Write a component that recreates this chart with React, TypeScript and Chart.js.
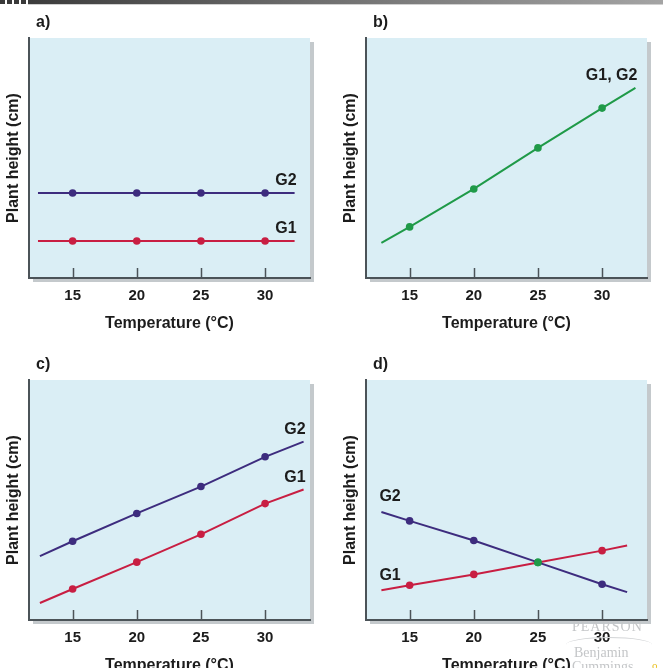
import React, { useEffect, useRef } from "react";
import { Chart, registerables } from "chart.js";

Chart.register(...registerables);

const FONT = "'Liberation Sans', Arial, Helvetica, sans-serif";

// Shared temperature axis
const tempTicks = [15, 20, 25, 30];
const tempMin = 11.6;
const tempMax = 33.5;
const heightMin = 0;
const heightMax = 100;

// a) neither genotype responds to temperature
const tempsA = [12.3, 15, 20, 25, 30, 32.3];
const g1A = [15.4, 15.4, 15.4, 15.4, 15.4, 15.4];
const g2A = [35.4, 35.4, 35.4, 35.4, 35.4, 35.4];

// b) both genotypes share one response line
const tempsB = [12.8, 15, 20, 25, 30, 32.6];
const g1g2B = [14.6, 21.3, 37.1, 54.2, 70.8, 79.2];

// c) parallel responses
const tempsC = [12.45, 15, 20, 25, 30, 33.0];
const g1C = [7.1, 12.9, 24.1, 35.7, 48.5, 54.4];
const g2C = [26.6, 32.8, 44.4, 55.6, 68.0, 74.3];

// d) crossing responses
const tempsD = [12.8, 15, 20, 25, 30, 31.95];
const g1D = [12.4, 14.5, 19.0, 24.0, 28.9, 31.0];
const g2D = [45.0, 41.3, 33.1, 24.0, 14.9, 11.6];
const crossingTempD = 25;

const PURPLE = "#3d2c7e";
const RED = "#c81e42";
const GREEN = "#1f9a48";
const AXIS = "#4b5358";
const TEXT = "#1c1c1c";

type Series = {
  label: string;
  temps: number[];
  values: number[];
  color: string;
  markerColor?: (t: number) => string;
};

type PanelProps = {
  letter: string;
  series: Series[];
  labelAt: "start" | "end";
  left: number;
  top: number;
};

const panelDecor = {
  id: "panelDecor",
  beforeDraw(chart: any) {
    const { ctx, chartArea: a } = chart;
    ctx.save();
    ctx.fillStyle = "#c4c9cc";
    ctx.fillRect(a.left + 4, a.top + 4, a.right - a.left, a.bottom - a.top);
    ctx.fillStyle = "#daeef5";
    ctx.fillRect(a.left, a.top, a.right - a.left, a.bottom - a.top);
    ctx.restore();
  },
  beforeDatasetsDraw(chart: any) {
    const { ctx, chartArea: a } = chart;
    const xs = chart.scales.x;
    ctx.save();
    ctx.strokeStyle = AXIS;
    ctx.lineWidth = 1.5;
    for (const t of tempTicks) {
      const px = Math.round(xs.getPixelForValue(t)) + 0.5;
      ctx.beginPath();
      ctx.moveTo(px, a.bottom);
      ctx.lineTo(px, a.bottom - 10);
      ctx.stroke();
    }
    ctx.restore();
  },
  afterDraw(chart: any, _args: any, opts: any) {
    const { ctx, chartArea: a } = chart;
    ctx.save();
    ctx.fillStyle = TEXT;
    ctx.font = `bold 16px ${FONT}`;
    ctx.textBaseline = "middle";
    ctx.textAlign = "left";
    ctx.fillText(opts.letter, a.left + 7, a.top - 15);
    chart.data.datasets.forEach((ds: any, i: number) => {
      const pts = chart.getDatasetMeta(i).data;
      if (opts.labelAt === "end") {
        const p = pts[pts.length - 1];
        ctx.textAlign = "right";
        ctx.fillText(ds.label, p.x + 2, p.y - 12);
      } else {
        const p = pts[0];
        ctx.textAlign = "left";
        ctx.fillText(ds.label, p.x - 2, p.y - 15);
      }
    });
    ctx.restore();
  },
};

function Panel({ letter, series, labelAt, left, top }: PanelProps) {
  const ref = useRef<HTMLCanvasElement | null>(null);

  useEffect(() => {
    if (!ref.current) return;
    const chart = new Chart(ref.current, {
      type: "line",
      data: {
        datasets: series.map((s) => ({
          label: s.label,
          data: s.temps.map((t, i) => ({ x: t, y: s.values[i] })),
          borderColor: s.color,
          borderWidth: 2,
          pointRadius: s.temps.map((t) => (tempTicks.includes(t) ? 3.8 : 0)),
          pointBackgroundColor: s.temps.map((t) =>
            s.markerColor ? s.markerColor(t) : s.color
          ),
          pointBorderWidth: 0,
          tension: 0,
          fill: false,
        })),
      },
      options: {
        responsive: false,
        animation: false,
        events: [],
        layout: { padding: { top: 38, right: 21, bottom: 0, left: 0 } },
        plugins: {
          legend: { display: false },
          tooltip: { enabled: false },
          panelDecor: { letter, labelAt },
        } as any,
        scales: {
          x: {
            type: "linear",
            min: tempMin,
            max: tempMax,
            afterBuildTicks: (scale: any) => {
              scale.ticks = tempTicks.map((v) => ({ value: v }));
            },
            afterFit: (scale: any) => {
              scale.height = 62;
            },
            grid: { display: false, drawTicks: false },
            border: { display: true, color: AXIS, width: 2 },
            ticks: {
              padding: 9,
              color: TEXT,
              font: { family: FONT, size: 15, weight: "bold" },
              maxRotation: 0,
            },
            title: {
              display: true,
              text: "Temperature (°C)",
              color: TEXT,
              font: { family: FONT, size: 16, weight: "bold" },
              padding: { top: 0, bottom: 7 },
            },
          },
          y: {
            type: "linear",
            min: heightMin,
            max: heightMax,
            afterFit: (scale: any) => {
              scale.width = 29;
            },
            grid: { display: false, drawTicks: false },
            border: { display: true, color: AXIS, width: 2 },
            ticks: { display: false },
            title: {
              display: true,
              text: "Plant height (cm)",
              color: TEXT,
              font: { family: FONT, size: 16, weight: "bold" },
              padding: { top: 4, bottom: 0 },
            },
          },
        },
      },
      plugins: [panelDecor],
    });
    return () => chart.destroy();
  }, []);

  return (
    <canvas
      ref={ref}
      width={331}
      height={340}
      style={{ position: "absolute", left, top }}
    />
  );
}

const panelA: Series[] = [
  { label: "G2", temps: tempsA, values: g2A, color: PURPLE },
  { label: "G1", temps: tempsA, values: g1A, color: RED },
];
const panelB: Series[] = [
  { label: "G1, G2", temps: tempsB, values: g1g2B, color: GREEN },
];
const panelC: Series[] = [
  { label: "G2", temps: tempsC, values: g2C, color: PURPLE },
  { label: "G1", temps: tempsC, values: g1C, color: RED },
];
const panelD: Series[] = [
  {
    label: "G2",
    temps: tempsD,
    values: g2D,
    color: PURPLE,
    markerColor: (t) => (t === crossingTempD ? GREEN : PURPLE),
  },
  {
    label: "G1",
    temps: tempsD,
    values: g1D,
    color: RED,
    markerColor: (t) => (t === crossingTempD ? GREEN : RED),
  },
];

function HeaderBar() {
  const blocks = [0, 7, 14, 21];
  return (
    <>
      {blocks.map((x) => (
        <div
          key={x}
          style={{
            position: "absolute",
            left: x,
            top: 0,
            width: 5,
            height: 4,
            background: "#3a3a3a",
          }}
        />
      ))}
      <div
        style={{
          position: "absolute",
          left: 28,
          top: 0,
          width: 635,
          height: 4,
          background: "linear-gradient(to right, #3c3c3c, #6e6e6e 45%, #a4a4a4)",
          borderBottom: "1px solid #d0d0d0",
        }}
      />
    </>
  );
}

function Imprint() {
  const base: React.CSSProperties = {
    position: "absolute",
    fontFamily: "'Liberation Serif', 'DejaVu Serif', serif",
    color: "#c4c6c8",
    whiteSpace: "nowrap",
    lineHeight: 1,
  };
  return (
    <>
      <div style={{ ...base, left: 572, top: 620, fontSize: 14, letterSpacing: 1 }}>
        PEARSON
      </div>
      <div
        style={{
          position: "absolute",
          left: 566,
          top: 637,
          width: 86,
          height: 14,
          borderTop: "1px solid #d2d4d6",
          borderRadius: "50% 50% 0 0",
        }}
      />
      <div style={{ ...base, left: 574, top: 646, fontSize: 14 }}>Benjamin</div>
      <div style={{ ...base, left: 572, top: 660, fontSize: 14 }}>Cummings</div>
      <div style={{ ...base, left: 652, top: 660, fontSize: 11, color: "#e8c020" }}>
        o
      </div>
    </>
  );
}

export default function App() {
  useEffect(() => {
    document.body.style.margin = "0";
  }, []);
  return (
    <div
      style={{
        position: "absolute",
        left: 0,
        top: 0,
        width: 663,
        height: 668,
        overflow: "hidden",
        background: "#ffffff",
      }}
    >
      <HeaderBar />
      <Panel letter="a)" series={panelA} labelAt="end" left={0} top={0} />
      <Panel letter="b)" series={panelB} labelAt="end" left={337} top={0} />
      <Panel letter="c)" series={panelC} labelAt="end" left={0} top={342} />
      <Panel letter="d)" series={panelD} labelAt="start" left={337} top={342} />
      <Imprint />
    </div>
  );
}
